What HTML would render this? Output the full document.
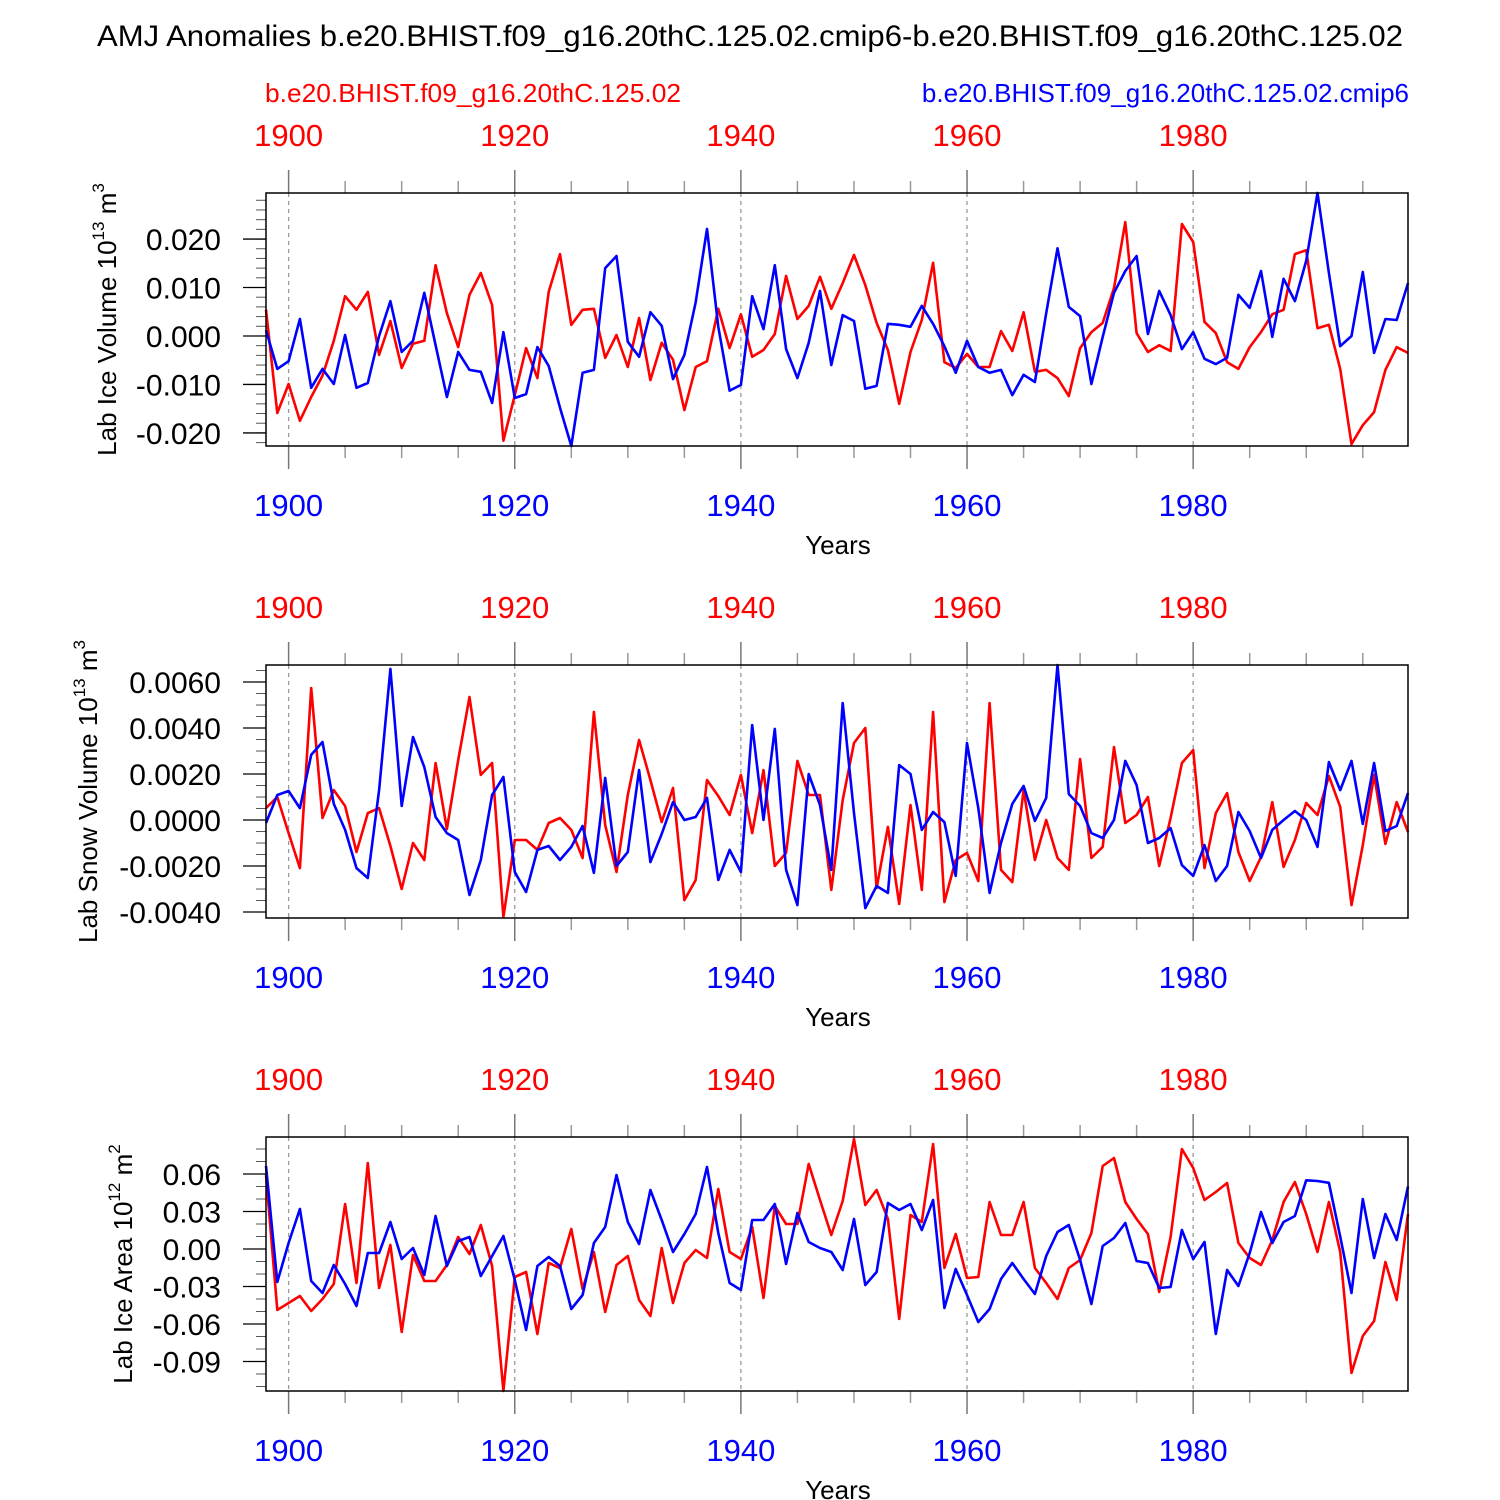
<!DOCTYPE html>
<html><head><meta charset="utf-8">
<style>
html,body{margin:0;padding:0;background:#fff;}
svg{display:block;font-family:"Liberation Sans",Arial,sans-serif;}
</style></head>
<body>
<svg id="chart" width="1500" height="1500" viewBox="0 0 1500 1500" xmlns="http://www.w3.org/2000/svg">
<text x="750" y="46" font-size="30" text-anchor="middle" fill="#000" textLength="1306" lengthAdjust="spacingAndGlyphs">AMJ Anomalies b.e20.BHIST.f09_g16.20thC.125.02.cmip6-b.e20.BHIST.f09_g16.20thC.125.02</text>
<text x="265" y="102" font-size="26" fill="#ff0000" textLength="416" lengthAdjust="spacingAndGlyphs">b.e20.BHIST.f09_g16.20thC.125.02</text>
<text x="1409" y="102" font-size="26" text-anchor="end" fill="#0000ff">b.e20.BHIST.f09_g16.20thC.125.02.cmip6</text>
</svg>
<script>
// ---- data (year index starts at 1898) ----
const startYear = 1898;
const yearTicks = [1900, 1920, 1940, 1960, 1980];
// Panel 1: ice volume, in units of 0.001
const iceVolRed = [5.4,-15.9,-9.9,-17.5,-12.6,-8.2,-1.0,8.2,5.4,9.1,-3.9,3.1,-6.6,-1.6,-1.0,14.6,4.7,-2.3,8.5,13.0,6.4,-21.6,-12.2,-2.5,-8.7,9.1,16.9,2.3,5.4,5.6,-4.5,0.2,-6.4,3.7,-9.1,-1.4,-4.9,-15.3,-6.4,-5.2,5.6,-2.5,4.5,-4.3,-2.9,0.4,12.4,3.5,6.2,12.2,5.6,10.9,16.7,10.5,2.7,-2.9,-14.0,-3.3,3.3,15.1,-5.4,-6.6,-3.7,-6.4,-6.4,1.0,-3.1,4.9,-7.4,-7.0,-8.7,-12.4,-2.5,0.8,2.7,9.9,23.5,0.6,-3.3,-1.9,-3.1,23.1,19.4,2.9,0.6,-5.4,-6.8,-2.3,0.8,4.5,5.4,16.9,17.7,1.6,2.3,-6.8,-22.3,-18.4,-15.7,-7.0,-2.3,-3.5];
const iceVolBlue = [1.2,-6.8,-5.2,3.5,-10.7,-6.8,-9.9,0.2,-10.7,-9.7,0,7.2,-3.3,-1.0,8.9,-1.9,-12.6,-3.3,-7.0,-7.4,-13.8,0.8,-12.8,-12.0,-2.3,-6.2,-14.8,-22.7,-7.6,-7.0,14.0,16.5,-1.2,-4.3,4.9,2.1,-8.9,-3.9,7.0,22.1,1.9,-11.3,-10.1,8.2,1.4,14.6,-2.7,-8.7,-1.4,9.3,-6.0,4.3,3.1,-10.9,-10.3,2.5,2.3,1.9,6.2,2.5,-2.1,-7.6,-1.0,-6.4,-7.6,-7.0,-12.2,-8.0,-9.5,4.7,18.1,6.0,4.1,-9.9,-0.2,8.9,13.4,16.5,0.4,9.3,4.3,-2.7,0.8,-4.7,-5.8,-4.5,8.5,5.8,13.4,-0.2,11.8,7.2,15.5,29.5,13.0,-2.1,0,13.2,-3.5,3.5,3.3,10.9];
const iceVolTicks = [-20,-10,0,10,20];
const iceVolTickLabels = ["-0.020","-0.010","0.000","0.010","0.020"];
// Panel 2: snow volume, in units of 0.0001
const snowVolRed = [5.2,10,-5.7,-20.9,57.4,0.9,13,6.1,-13.9,3,5.2,-11.3,-30,-10,-17.4,24.8,-3.9,26.1,53.5,19.6,24.8,-42.2,-8.7,-8.7,-13,-1.3,0.9,-4.3,-16.5,47,-2.2,-22.6,10.9,34.8,17.4,-0.9,13.9,-34.8,-26.1,17.4,10.4,2.2,19.6,-5.7,21.7,-20,-14.3,25.7,10.9,10.9,-30.4,8.7,33.5,40,-29.6,-3,-36.5,6.5,-30.4,47,-35.7,-17.4,-14.3,-26.5,50.9,-21.7,-27,13,-17.4,0,-16.5,-21.7,26.5,-16.5,-11.7,31.7,-1.3,2.2,10,-20,0.9,24.8,30.4,-20.9,3,11.7,-13.9,-26.5,-16.1,7.8,-20.4,-8.7,7.4,2.2,19.1,5.7,-37,-10.9,19.6,-10.4,7.8,-5.2];
const snowVolBlue = [-1.3,10.9,12.6,5.2,28.3,33.9,7,-4.3,-20.9,-25.2,13,65.7,6.1,36.1,23,1.3,-5.7,-8.7,-32.6,-17.4,10.9,18.7,-22.6,-31.3,-13,-11.3,-17.4,-11.7,-2.6,-23,18.3,-20,-13.9,21.7,-18.3,-6.1,7.8,0,1.3,9.6,-26.1,-13,-22.6,41.3,0,39.6,-21.7,-37,20,6.5,-21.7,50.9,3,-38.3,-28.7,-31.7,23.9,20,-4.3,3.5,-0.9,-24.3,33.5,5.2,-31.7,-10,7,14.8,-0.4,9.6,67.4,11.3,6.1,-5.7,-7.8,0,25.7,15.2,-10,-7.8,-3.5,-19.6,-24.3,-10.9,-26.5,-20,3.5,-4.8,-16.5,-4.3,0,3.9,0,-11.7,25.2,13,25.7,-1.7,24.8,-4.8,-2.6,11.7];
const snowVolTicks = [-40,-20,0,20,40,60];
const snowVolTickLabels = ["-0.0040","-0.0020","0.0000","0.0020","0.0040","0.0060"];
// Panel 3: ice area, in units of 0.001
const iceAreaRed = [59.2,-48.8,-43.2,-37.6,-49.6,-40,-28,36,-27.2,68.8,-31.2,3.2,-66.4,-4.8,-25.6,-25.6,-12.8,9.6,-4,19.2,-13.6,-113.6,-22.4,-18.4,-68,-11.2,-15.2,16,-32,-2.4,-50.4,-12.8,-5.6,-40.8,-53.6,0.8,-43.2,-11.2,-0.8,-7.2,48,-2.4,-8,17.6,-39.2,34.4,20,20,68,39.2,11.2,38.4,88,35.2,47.2,24,-56,27.2,21.6,84,-15.2,12,-23.2,-22.4,37.6,11.2,11.2,37.6,-15.2,-27.2,-40,-15.2,-8.8,12.8,66.4,72.8,37.6,24,12,-34.4,9.6,80,64.8,39.2,45.6,52.8,4.8,-7.2,-12.8,7.2,37.6,53.6,28,-2.4,37.6,-2.4,-99.2,-69.6,-57.6,-10.4,-40.8,28];
const iceAreaBlue = [66.4,-26.4,4.8,32,-25.6,-35.2,-12.8,-28,-45.6,-3.2,-3.2,21.6,-8,0.8,-20.8,26.4,-13.6,6.4,9.6,-21.6,-5.6,10.4,-24.8,-64.8,-13.6,-6.4,-13.6,-48,-36.8,4.8,17.6,59.2,21.6,4,47.2,23.2,-2.4,12,28,65.6,12.8,-27.2,-32.8,23.2,23.2,36,-12,28.8,5.6,0.8,-2.4,-16.8,24,-28.8,-18.4,36.8,31.2,36,15.2,39.2,-47.2,-16,-36.8,-58.4,-48,-24,-11.2,-24,-36,-5.6,13.6,19.2,-8.8,-44,2.4,8.8,20.8,-9.6,-11.2,-31.2,-30.4,15.2,-8,5.6,-68,-16.8,-29.6,-3.2,29.6,4.8,21.6,26.4,55,54.4,53,10,-35.2,40,-7.2,28,7.2,50];
const iceAreaTicks = [-90,-60,-30,0,30,60];
const iceAreaTickLabels = ["-0.09","-0.06","-0.03","0.00","0.03","0.06"];

const NS = "http://www.w3.org/2000/svg";
const svg = document.getElementById('chart');
const X0 = 266, X1 = 1408, YR0 = 1898, YR1 = 1999;
function xScale(yr){ return X0 + (yr - YR0) * (X1 - X0) / (YR1 - YR0); }
function mk(tag, attrs, parent){
  const e = document.createElementNS(NS, tag);
  for (const k in attrs) e.setAttribute(k, attrs[k]);
  (parent || svg).appendChild(e);
  return e;
}

function panel(cfg){
  const g = mk('g', {});
  
  
  const yScale = v => cfg.top + (cfg.vmax - v) * (cfg.bot - cfg.top) / (cfg.vmax - cfg.vmin);
  yearTicks.forEach(yr => {
    const l = mk('line', {x1: xScale(yr), x2: xScale(yr), y1: cfg.top, y2: cfg.bot, stroke: '#999', 'stroke-width': 1.3, 'stroke-dasharray': '4,4'}, g);
    
    
  });
  for (let yr = 1900; yr <= 1995; yr += 5) {
    const major = yr % 20 === 0;
    const len = major ? 23 : 12;
    const c = major ? '#777' : '#999';
    mk('line', {x1: xScale(yr), x2: xScale(yr), y1: cfg.top - len, y2: cfg.top, stroke: c, 'stroke-width': 1.5}, g);
    mk('line', {x1: xScale(yr), x2: xScale(yr), y1: cfg.bot, y2: cfg.bot + len, stroke: c, 'stroke-width': 1.5}, g);
  }
  for (let v = Math.ceil(cfg.vmin / cfg.minor) * cfg.minor; v <= cfg.vmax + 1e-9; v += cfg.minor) {
    const y = yScale(v);
    mk('line', {x1: X0 - 10, x2: X0, y1: y, y2: y, stroke: '#555', 'stroke-width': 1}, g);
  }
  cfg.ticks.forEach((v, i) => {
    const y = yScale(v);
    mk('line', {x1: X0 - 23, x2: X0, y1: y, y2: y, stroke: '#000', 'stroke-width': 1.3}, g);
    const t = mk('text', {x: 221, y: y + 11, 'font-size': 30, 'text-anchor': 'end', fill: '#000'}, g);
    
    
    t.textContent = cfg.labels[i];
  });
  [[cfg.red, '#ff0000', 'red-series-line'], [cfg.blue, '#0000ff', 'blue-series-line']].forEach(([arr, col, nm]) => {
    const pts = arr.map((v, i) => xScale(startYear + i).toFixed(1) + ',' + yScale(v).toFixed(1)).join(' ');
    const p = mk('polyline', {points: pts, fill: 'none', stroke: col, 'stroke-width': 2.6, 'stroke-linejoin': 'round'}, g);
    
    
  });
  const r = mk('rect', {x: X0, y: cfg.top, width: X1 - X0, height: cfg.bot - cfg.top, fill: 'none', stroke: '#000', 'stroke-width': 1.5}, g);
  
  
  yearTicks.forEach(yr => {
    const t1 = mk('text', {x: xScale(yr), y: cfg.top - 47, 'font-size': 31, 'text-anchor': 'middle', fill: '#ff0000'}, g);
    
    
    t1.textContent = yr;
    const t2 = mk('text', {x: xScale(yr), y: cfg.bot + 70, 'font-size': 31, 'text-anchor': 'middle', fill: '#0000ff'}, g);
    
    
    t2.textContent = yr;
  });
  const xt = mk('text', {x: 838, y: cfg.bot + 108, 'font-size': 26, 'text-anchor': 'middle', fill: '#000'}, g);
  
  
  xt.textContent = 'Years';
  const cy = (cfg.top + cfg.bot) / 2;
  const yt = mk('text', {x: 0, y: 0, 'font-size': 26, 'text-anchor': 'middle', fill: '#000', transform: 'translate(' + cfg.titleX + ',' + cy + ') rotate(-90)'}, g);
  
  
  yt.innerHTML = cfg.title + ' 10<tspan dy="-12" font-size="17">' + cfg.exp + '</tspan><tspan dy="12"> m</tspan><tspan dy="-12" font-size="17">' + cfg.unitExp + '</tspan>';
}

panel({name: 'ice-volume-panel', top: 193, bot: 446, vmin: -22.7, vmax: 29.5, minor: 2, ticks: iceVolTicks, labels: iceVolTickLabels, red: iceVolRed, blue: iceVolBlue, title: 'Lab Ice Volume', exp: '13', unitExp: '3', titleX: 116});
panel({name: 'snow-volume-panel', top: 665, bot: 918, vmin: -42.6, vmax: 67.4, minor: 5, ticks: snowVolTicks, labels: snowVolTickLabels, red: snowVolRed, blue: snowVolBlue, title: 'Lab Snow Volume', exp: '13', unitExp: '3', titleX: 97});
panel({name: 'ice-area-panel', top: 1137, bot: 1391, vmin: -113.6, vmax: 89.6, minor: 10, ticks: iceAreaTicks, labels: iceAreaTickLabels, red: iceAreaRed, blue: iceAreaBlue, title: 'Lab Ice Area', exp: '12', unitExp: '2', titleX: 132});
</script>
</body></html>
